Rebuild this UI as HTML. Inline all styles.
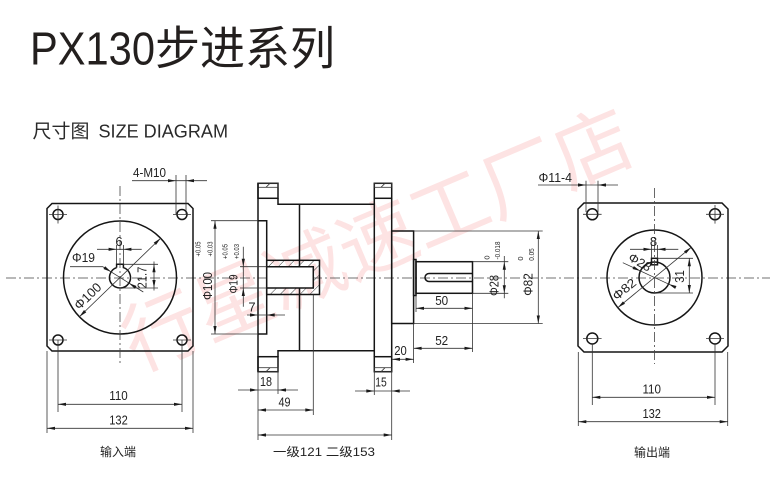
<!DOCTYPE html>
<html><head><meta charset="utf-8"><style>
html,body{margin:0;padding:0;background:#fff;}
svg{display:block;}
text{font-family:"Liberation Sans","Noto Sans CJK SC",sans-serif;fill:#222;}
.o{fill:none;stroke:#151515;stroke-width:1.5;}
.t{fill:none;stroke:#333;stroke-width:0.8;}
.c{fill:none;stroke:#444;stroke-width:0.8;stroke-dasharray:10 3 2 3;}
</style></head><body>
<svg width="782" height="485" viewBox="0 0 782 485" xmlns="http://www.w3.org/2000/svg">
<defs>
<path id="a" d="M0,0L-8,-1.6L-8,1.6Z"/>
<pattern id="h" width="7" height="7" patternUnits="userSpaceOnUse" patternTransform="rotate(45)"><line x1="0" y1="0" x2="0" y2="7" stroke="#222" stroke-width="0.9"/></pattern>
</defs>
<rect width="782" height="485" fill="#fff"/>

<!-- watermark -->
<text x="137" y="372" transform="rotate(-23 137 372)" font-size="78" style="fill:#fde3e3;font-family:'Noto Sans CJK SC',sans-serif">行星减速工厂店</text>

<!-- title -->
<text x="30" y="64.5" font-size="46" textLength="125" lengthAdjust="spacingAndGlyphs" style="fill:#231f1e">PX130</text>
<text x="155" y="64.5" font-size="46" textLength="180" lengthAdjust="spacingAndGlyphs" style="fill:#231f1e;font-family:'Liberation Sans','Noto Sans CJK SC',sans-serif">步进系列</text>
<text x="32.5" y="137.7" font-size="19" style="fill:#2a2a2a">尺寸图</text>
<text x="98.5" y="137.7" font-size="18.7" textLength="129.5" lengthAdjust="spacingAndGlyphs" style="fill:#2a2a2a">SIZE DIAGRAM</text>

<!-- centerline -->
<line class="c" x1="6" y1="278" x2="770" y2="278"/>

<!-- ============ LEFT VIEW ============ -->
<path class="o" d="M52,203.5 H188 L193,208.5 V346 L188,351 H52 L47,346 V208.5 Z"/>
<circle class="o" cx="120" cy="277.5" r="56.5"/>
<circle class="o" cx="58" cy="214.5" r="5"/>
<circle class="o" cx="182" cy="214.5" r="5"/>
<circle class="o" cx="58" cy="340" r="5"/>
<circle class="o" cx="182" cy="340" r="5"/>
<path class="t" d="M49,214.5H67M58,205.5V223.5M173,214.5H191M49,340H67M173,340H191"/>
<path class="o" d="M116.6,267.57 V264.3 H123.4 V267.57 A10.5,10.5 0 1 1 116.6,267.57"/>
<line class="c" x1="120" y1="186" x2="120" y2="365"/>
<!-- 4-M10 -->
<path class="t" d="M132,180.7H207M176,175V214.5M186,175V214.5"/>
<!-- 6 -->
<path class="t" d="M97,249.3H141.7M116.6,245V264.3M123.4,245V264.3"/>
<!-- 21.7 -->
<path class="t" d="M154,261.5V290.5M123.4,264.3H158M120,288H158"/>
<!-- phi19 -->
<path class="t" d="M70,266.7H102.7L143.3,292"/>
<!-- phi100 -->
<line class="t" x1="79.4" y1="316.75" x2="160.6" y2="238.25"/>
<!-- 110 / 132 -->
<path class="t" d="M58,404.3H182M58,340V412M182,340V412M47,428.3H193M47,351V433M193,351V433"/>
<g fill="#1a1a1a">
<use href="#a" transform="translate(176 180.7) rotate(0)"/>
<use href="#a" transform="translate(186 180.7) rotate(180)"/>
<use href="#a" transform="translate(116.6 249.3) rotate(0)"/>
<use href="#a" transform="translate(123.4 249.3) rotate(180)"/>
<use href="#a" transform="translate(154 264.3) rotate(-90)"/>
<use href="#a" transform="translate(154 288) rotate(90)"/>
<use href="#a" transform="translate(111.1 271.9) rotate(32)"/>
<use href="#a" transform="translate(128.9 283.1) rotate(212)"/>
<use href="#a" transform="translate(160.6 238.25) rotate(-44)"/>
<use href="#a" transform="translate(79.4 316.75) rotate(136)"/>
<use href="#a" transform="translate(58 404.3) rotate(180)"/>
<use href="#a" transform="translate(182 404.3) rotate(0)"/>
<use href="#a" transform="translate(47 428.3) rotate(180)"/>
<use href="#a" transform="translate(193 428.3) rotate(0)"/>
</g>
<text x="133" y="177" font-size="12.5" textLength="33" lengthAdjust="spacingAndGlyphs">4-M10</text>
<text x="72" y="262" font-size="12.5" textLength="23" lengthAdjust="spacingAndGlyphs">Φ19</text>
<text x="119" y="246" font-size="13" text-anchor="middle">6</text>
<text transform="translate(146.4 277.5) rotate(-90)" font-size="13" text-anchor="middle" textLength="21.7" lengthAdjust="spacingAndGlyphs">21.7</text>
<text transform="translate(90.8 299.4) rotate(-44)" font-size="13" text-anchor="middle" textLength="32" lengthAdjust="spacingAndGlyphs">Φ100</text>
<text x="118.5" y="400" font-size="13" text-anchor="middle" textLength="18.5" lengthAdjust="spacingAndGlyphs">110</text>
<text x="118.5" y="424.5" font-size="13" text-anchor="middle" textLength="18.5" lengthAdjust="spacingAndGlyphs">132</text>
<text x="118" y="456" font-size="12" text-anchor="middle">输入端</text>

<!-- ============ MIDDLE VIEW ============ -->
<!-- left flange -->
<rect class="o" x="258" y="183.3" width="20" height="15"/>
<rect class="t" x="258" y="183.3" width="20" height="4"/>
<line class="t" x1="266" y1="187.3" x2="270" y2="183.3"/>
<rect class="o" x="258" y="356.7" width="20" height="15"/>
<rect class="t" x="258" y="367.7" width="20" height="4"/>
<line class="t" x1="266" y1="371.7" x2="270" y2="367.7"/>
<path class="o" d="M258,183.3V371.7M278,198.3V204.3H374.3M278,356.7V350.7H374.3M299.5,204.3V350.7"/>
<!-- pilot -->
<path class="o" d="M258,220.7H266.7V334H258"/>
<!-- bore -->
<rect x="266.7" y="260.3" width="52.8" height="34.2" fill="url(#h)"/>
<rect x="266.7" y="266.7" width="46.6" height="21.3" fill="#fff"/>
<rect class="o" x="266.7" y="260.3" width="52.8" height="34.2"/>
<path class="o" d="M266.7,266.7H313.3V288H266.7"/>
<!-- right flange -->
<rect class="o" x="374.3" y="183.3" width="17.4" height="15"/>
<rect class="t" x="374.3" y="183.3" width="17.4" height="4"/>
<line class="t" x1="381" y1="187.3" x2="385" y2="183.3"/>
<rect class="o" x="374.3" y="356.7" width="17.4" height="15"/>
<rect class="t" x="374.3" y="367.7" width="17.4" height="4"/>
<line class="t" x1="381" y1="371.7" x2="385" y2="367.7"/>
<path class="o" d="M374.3,198.3V356.7M391.7,198.3V356.7"/>
<!-- boss & shaft -->
<rect class="o" x="391.7" y="231" width="21.9" height="92.5"/>
<rect class="o" x="413.6" y="259.5" width="2.4" height="36"/>
<rect class="o" x="416" y="261.7" width="56.5" height="31.6"/>
<path class="o" d="M472.5,273.5H429A4,4 0 0 0 429,281.5H472.5"/>

<!-- middle dims -->
<path class="t" d="M211,220.7H258M211,334H258M215,220.7V334"/>
<path class="t" d="M240,266.7H266.7M240,288H266.7M243.3,246.7V306.7"/>
<path class="t" d="M247,315H285"/>
<path class="t" d="M278,371.7V394M238,390H298"/>
<path class="t" d="M313.3,294.5V415M258,410H313.3"/>
<path class="t" d="M258,371.7V440M391.7,371.7V440M258,435H391.7"/>
<path class="t" d="M374.3,371.7V395M355,391H410"/>
<path class="t" d="M413.6,323.5V363M392,359.3H413.6"/>
<path class="t" d="M416,295.5V312M472.5,293.3V352M416,308.3H472.5M413.6,348.3H472.5"/>
<path class="t" d="M472.5,261.7H508.3M472.5,293.3H508.3M504.3,256V298.3"/>
<path class="t" d="M413.6,231H542.7M413.6,323.5H542.7M538.3,231V323.5"/>
<g fill="#1a1a1a">
<use href="#a" transform="translate(215 220.7) rotate(-90)"/>
<use href="#a" transform="translate(215 334) rotate(90)"/>
<use href="#a" transform="translate(243.3 266.7) rotate(90)"/>
<use href="#a" transform="translate(243.3 288) rotate(-90)"/>
<use href="#a" transform="translate(258 315) rotate(0)"/>
<use href="#a" transform="translate(266.7 315) rotate(180)"/>
<use href="#a" transform="translate(258 390) rotate(0)"/>
<use href="#a" transform="translate(278 390) rotate(180)"/>
<use href="#a" transform="translate(258 410) rotate(180)"/>
<use href="#a" transform="translate(313.3 410) rotate(0)"/>
<use href="#a" transform="translate(258 435) rotate(180)"/>
<use href="#a" transform="translate(391.7 435) rotate(0)"/>
<use href="#a" transform="translate(374.3 391) rotate(0)"/>
<use href="#a" transform="translate(391.7 391) rotate(180)"/>
<use href="#a" transform="translate(392 359.3) rotate(180)"/>
<use href="#a" transform="translate(413.6 359.3) rotate(0)"/>
<use href="#a" transform="translate(416 308.3) rotate(180)"/>
<use href="#a" transform="translate(472.5 308.3) rotate(0)"/>
<use href="#a" transform="translate(413.6 348.3) rotate(180)"/>
<use href="#a" transform="translate(472.5 348.3) rotate(0)"/>
<use href="#a" transform="translate(504.3 261.7) rotate(-90)"/>
<use href="#a" transform="translate(504.3 293.3) rotate(90)"/>
<use href="#a" transform="translate(538.3 231) rotate(-90)"/>
<use href="#a" transform="translate(538.3 323.5) rotate(90)"/>
</g>
<text transform="translate(200.6 249) rotate(-90)" font-size="7.5" text-anchor="middle" textLength="15" lengthAdjust="spacingAndGlyphs">+0.05</text>
<text transform="translate(212.6 249) rotate(-90)" font-size="7.5" text-anchor="middle" textLength="15" lengthAdjust="spacingAndGlyphs">+0.03</text>
<text transform="translate(212.2 286) rotate(-90)" font-size="13" text-anchor="middle" textLength="28" lengthAdjust="spacingAndGlyphs">Φ100</text>
<text transform="translate(227.6 251.5) rotate(-90)" font-size="7.5" text-anchor="middle" textLength="15" lengthAdjust="spacingAndGlyphs">+0.05</text>
<text transform="translate(239.1 251.5) rotate(-90)" font-size="7.5" text-anchor="middle" textLength="15" lengthAdjust="spacingAndGlyphs">+0.03</text>
<text transform="translate(237.5 284) rotate(-90)" font-size="12" text-anchor="middle" textLength="19" lengthAdjust="spacingAndGlyphs">Φ19</text>
<text x="252" y="311.5" font-size="13" text-anchor="middle">7</text>
<text x="266" y="386" font-size="13" text-anchor="middle" textLength="12" lengthAdjust="spacingAndGlyphs">18</text>
<text x="284.5" y="406.5" font-size="13" text-anchor="middle" textLength="12" lengthAdjust="spacingAndGlyphs">49</text>
<text x="381" y="386.5" font-size="13" text-anchor="middle" textLength="11.5" lengthAdjust="spacingAndGlyphs">15</text>
<text x="400.5" y="355" font-size="13" text-anchor="middle" textLength="12.5" lengthAdjust="spacingAndGlyphs">20</text>
<text x="441.7" y="305" font-size="13" text-anchor="middle" textLength="13" lengthAdjust="spacingAndGlyphs">50</text>
<text x="441.7" y="345" font-size="13" text-anchor="middle" textLength="13" lengthAdjust="spacingAndGlyphs">52</text>
<text x="324" y="456" font-size="12" text-anchor="middle" textLength="102" lengthAdjust="spacingAndGlyphs">一级121 二级153</text>
<text transform="translate(489.6 257.5) rotate(-90)" font-size="7.5" text-anchor="middle">0</text>
<text transform="translate(500.1 250.5) rotate(-90)" font-size="7.5" text-anchor="middle" textLength="18" lengthAdjust="spacingAndGlyphs">-0.018</text>
<text transform="translate(498.7 285.5) rotate(-90)" font-size="13" text-anchor="middle" textLength="21" lengthAdjust="spacingAndGlyphs">Φ28</text>
<text transform="translate(523.1 258.5) rotate(-90)" font-size="7.5" text-anchor="middle">0</text>
<text transform="translate(534.1 254.5) rotate(-90)" font-size="7.5" text-anchor="middle" textLength="12.5" lengthAdjust="spacingAndGlyphs">0.05</text>
<text transform="translate(532.7 284.5) rotate(-90)" font-size="13" text-anchor="middle" textLength="22.5" lengthAdjust="spacingAndGlyphs">Φ82</text>

<!-- ============ RIGHT VIEW ============ -->
<path class="o" d="M584,203 H722 L728,209 V346 L722,352 H584 L578,346 V209 Z"/>
<circle class="o" cx="654.5" cy="277.5" r="47.5"/>
<circle class="o" cx="654.5" cy="277.5" r="15.5"/>
<rect class="o" x="651.5" y="258.3" width="6" height="6.5" fill="#fff"/>
<circle class="o" cx="592.3" cy="214.3" r="5.5"/>
<circle class="o" cx="715" cy="214.3" r="5.5"/>
<circle class="o" cx="592.3" cy="338.5" r="5.5"/>
<circle class="o" cx="715" cy="338.5" r="5.5"/>
<path class="t" d="M583,214.3H601.6M706,214.3H724M715,205V223.6M583,338.5H601.6M706,338.5H724"/>
<line class="c" x1="654.5" y1="188" x2="654.5" y2="364"/>
<path class="t" d="M538,185H618M586,180.7V212M598,180.7V212"/>
<path class="t" d="M630,249.3H678.3M651.5,245V258.3M657.5,245V258.3"/>
<path class="t" d="M689.3,258.3V293M657.5,258.3H693M654.5,293H693"/>
<line class="t" x1="622.8" y1="262.7" x2="669.9" y2="284.7"/>
<line class="t" x1="617.8" y1="307.65" x2="691.2" y2="247.35"/>
<path class="t" d="M592.3,344V405M715,344V405M592.3,397.3H715M578.3,352V426M727.7,352V426M578.3,421.7H727.7"/>
<g fill="#1a1a1a">
<use href="#a" transform="translate(586 185) rotate(0)"/>
<use href="#a" transform="translate(598 185) rotate(180)"/>
<use href="#a" transform="translate(651.5 249.3) rotate(0)"/>
<use href="#a" transform="translate(657.5 249.3) rotate(180)"/>
<use href="#a" transform="translate(689.3 258.3) rotate(-90)"/>
<use href="#a" transform="translate(689.3 293) rotate(90)"/>
<use href="#a" transform="translate(640.45 270.95) rotate(25)"/>
<use href="#a" transform="translate(668.55 284.05) rotate(205)"/>
<use href="#a" transform="translate(691.2 247.35) rotate(-39.4)"/>
<use href="#a" transform="translate(617.8 307.65) rotate(140.6)"/>
<use href="#a" transform="translate(592.3 397.3) rotate(180)"/>
<use href="#a" transform="translate(715 397.3) rotate(0)"/>
<use href="#a" transform="translate(578.3 421.7) rotate(180)"/>
<use href="#a" transform="translate(727.7 421.7) rotate(0)"/>
</g>
<text x="538.5" y="182" font-size="12.5" textLength="33.5" lengthAdjust="spacingAndGlyphs">Φ11-4</text>
<text x="653.5" y="246" font-size="13" text-anchor="middle">8</text>
<text transform="translate(684.2 276.5) rotate(-90)" font-size="13" text-anchor="middle" textLength="12.5" lengthAdjust="spacingAndGlyphs">31</text>
<text transform="translate(637.75 265.9) rotate(30)" font-size="12.5" text-anchor="middle" textLength="24" lengthAdjust="spacingAndGlyphs">Φ28</text>
<text transform="translate(627 292.6) rotate(-39.4)" font-size="12.5" text-anchor="middle" textLength="26.5" lengthAdjust="spacingAndGlyphs">Φ82</text>
<text x="651.7" y="393.3" font-size="13" text-anchor="middle" textLength="18.5" lengthAdjust="spacingAndGlyphs">110</text>
<text x="651.7" y="418" font-size="13" text-anchor="middle" textLength="18.5" lengthAdjust="spacingAndGlyphs">132</text>
<text x="652" y="456.5" font-size="12" text-anchor="middle">输出端</text>
</svg>
</body></html>
